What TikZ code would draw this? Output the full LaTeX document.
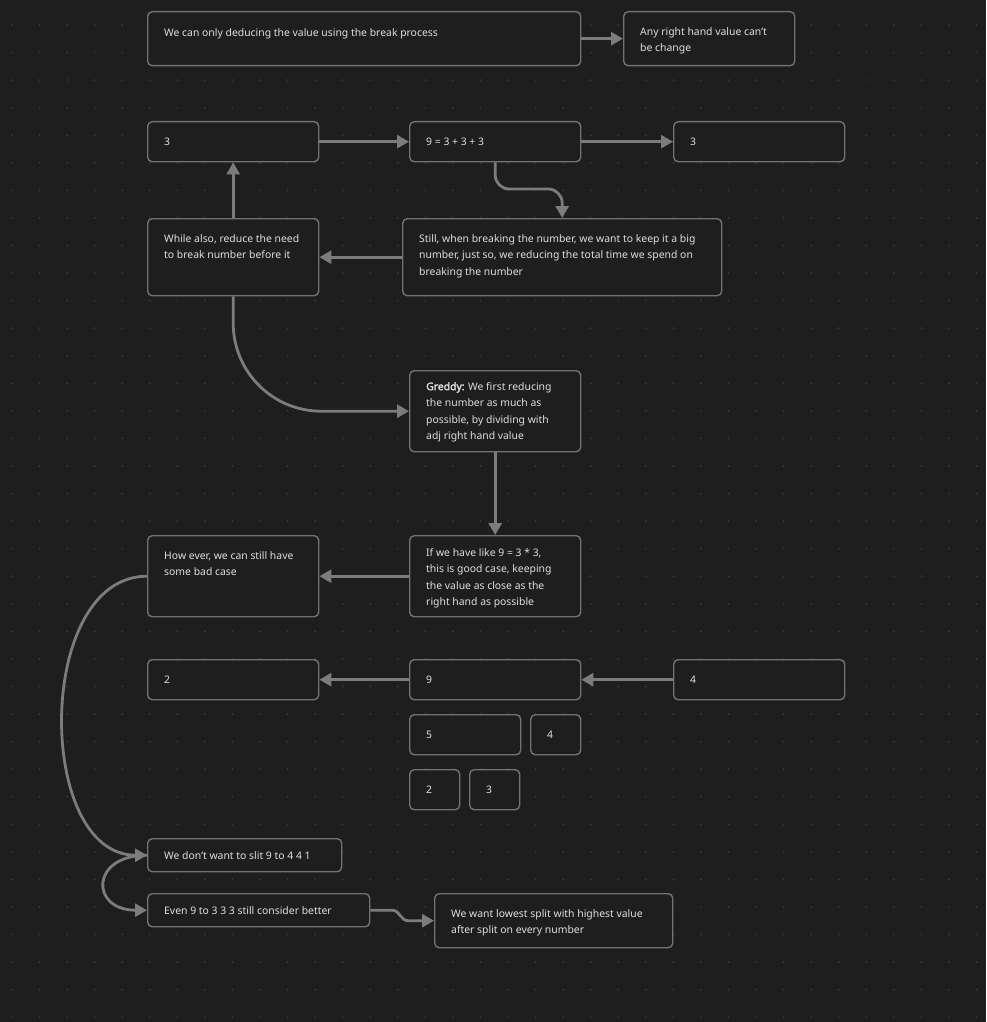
\documentclass[tikz,border=0pt]{standalone}
\usepackage{fontspec}
\setmainfont{Noto Sans}[AutoFakeBold=2.5]
\usetikzlibrary{arrows.meta,calc}
\definecolor{bg}{HTML}{1E1E1E}
\definecolor{boxc}{HTML}{727272}
\definecolor{arrc}{HTML}{7C7C7C}
\definecolor{txtc}{HTML}{DEDEDE}
\definecolor{dotc}{HTML}{3A3A3A}
\tikzset{
  box/.style={draw=boxc, fill=bg, line width=1.4pt, rounded corners=4.5pt, anchor=north west, inner sep=0pt},
  txt/.style={text=txtc, anchor=north west, inner sep=0pt, align=left, font=\fontsize{10.4}{16.5}\selectfont},
  arr/.style={draw=arrc, line width=2.8pt, -{Triangle[length=12pt,width=13pt]}},
}
\newcommand\mkbox[7]{%
  \node[box, minimum width=#4pt, minimum height=#5pt] (#1) at (#2,#3) {};
  \node[txt] (#1t) at ($(#1.north west)+(17,#6-7.6)$) {\strut #7};
}
\begin{document}
\begin{tikzpicture}[x=1pt,y=-1pt]
\fill[bg] (0,0) rectangle (986,1022);
\useasboundingbox (0,0) rectangle (986,1022);
\foreach \i in {0,...,35}{
  \foreach \j in {0,...,36}{
    \fill[dotc] (12+27.56*\i,25+27.56*\j) circle (1pt);
  }
}
\mkbox{b1}{147}{11}{433}{54}{21}{We can only deducing the value using the break process}
\mkbox{b2}{623}{11}{171}{54}{20}{Any right hand value can't\\be change}
\mkbox{b3}{147}{121}{171}{40}{20}{3}
\mkbox{b4}{409}{121}{171}{40}{20}{9 = 3 + 3 + 3}
\mkbox{b5}{673}{121}{171}{40}{20}{3}
\mkbox{b6}{147}{218}{171}{77}{20}{While also, reduce the need\\to break number before it}
\mkbox{b7}{402}{218}{319}{77}{20}{Still, when breaking the number, we want to keep it a big\\number, just so, we reducing the total time we spend on\\breaking the number}
\mkbox{b8}{409}{370}{171}{81}{16}{\textbf{Greddy:} We first reducing\\the number as much as\\possible, by dividing with\\adj right hand value}
\mkbox{b9}{409}{535}{171}{81}{17}{If we have like 9 = 3 * 3,\\this is good case, keeping\\the value as close as the\\right hand as possible}
\mkbox{b10}{147}{535}{171}{81}{20}{How ever, we can still have\\some bad case}
\mkbox{b11}{147}{659}{171}{40}{20}{2}
\mkbox{b12}{409}{659}{171}{40}{20}{9}
\mkbox{b13}{673}{659}{171}{40}{20}{4}
\mkbox{b14}{409}{714}{111}{40}{20}{5}
\mkbox{b15}{530}{714}{50}{40}{20}{4}
\mkbox{b16}{409}{769}{50}{40}{20}{2}
\mkbox{b17}{469}{769}{50}{40}{20}{3}
\mkbox{b18}{147}{838}{194}{33}{17}{We don't want to slit 9 to 4 4 1}
\mkbox{b19}{147}{893}{222}{33}{17}{Even 9 to 3 3 3 still consider better}
\mkbox{b20}{434}{893}{238}{54}{20}{We want lowest split with highest value\\after split on every number}
% connectors
\draw[arr] (b1.east) -- (b2.west);
\draw[arr] (b3.east) -- (b4.west);
\draw[arr] (b4.east) -- (b5.west);
\draw[arr, rounded corners=14pt] (b4.south) |- ($(b7.north)+(0,-29)$) -- (b7.north);
\draw[arr] (b7.west) -- (b6.east);
\draw[arr] (b6.north) -- (b3.south);
\draw[arr, rounded corners=88pt] (b6.south) |- (b8.west);
\draw[arr] (b8.south) -- (b9.north);
\draw[arr] (b9.west) -- (b10.east);
\draw[arr] (b12.west) -- (b11.east);
\draw[arr] (b13.west) -- (b12.east);
\draw[arr] (b10.west) .. controls +(-112,0) and +(-112,0) .. (b18.west);
\draw[arr] (b18.west) .. controls +(-57,0) and +(-57,0) .. (b19.west);
\draw[arr] (b19.east) -- ++(22,0) to[out=0,in=180] ($(b20.west)+(-26,0)$) -- (b20.west);
\end{tikzpicture}
\end{document}
